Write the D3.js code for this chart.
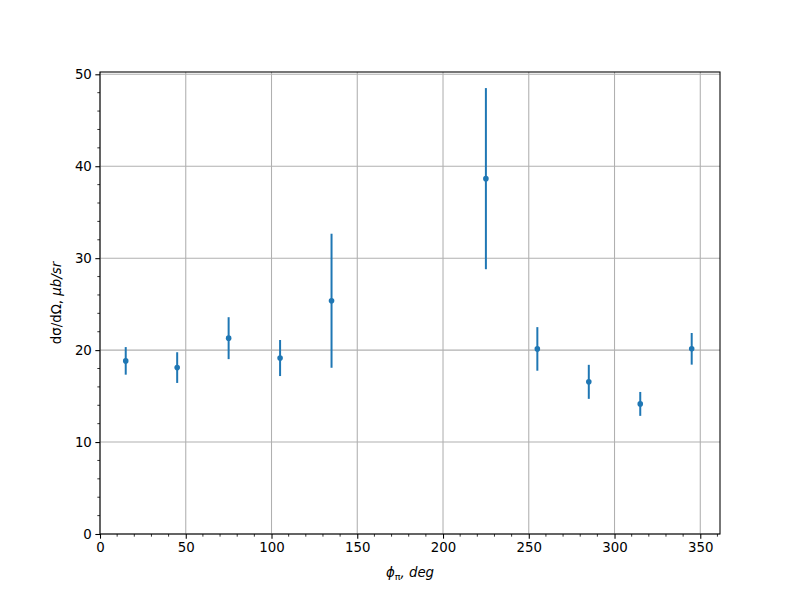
<!DOCTYPE html>
<html>
<head>
<meta charset="utf-8">
<script src="https://cdn.jsdelivr.net/npm/d3@7"></script>
<style>
body { margin: 0; background: #fff; }
text { font-family: "DejaVu Sans", sans-serif; }
</style>
</head>
<body>
<svg id="chart" width="800" height="600"></svg>
<script>
const phi = [15, 45, 75, 105, 135, 225, 255, 285, 315, 345];
const sigma = [18.83, 18.1, 21.3, 19.14, 25.37, 38.65, 20.13, 16.55, 14.15, 20.14];
const errors = [1.5, 1.67, 2.28, 1.96, 7.29, 9.85, 2.37, 1.85, 1.3, 1.72];
const xTicks = [0, 50, 100, 150, 200, 250, 300, 350];
const yTicks = [0, 10, 20, 30, 40, 50];
const xMinor = d3.range(0, 361, 10);
const yMinor = d3.range(0, 51, 2);

const svg = d3.select("#chart");
const L = 100, R = 720, T = 72, B = 534;
const x = d3.scaleLinear().domain([0, 361.5]).range([L, R]);
const y = d3.scaleLinear().domain([0, 50.25]).range([B, T]);
const blue = "#1f77b4";

// grid
svg.append("g").selectAll("line").data(xTicks).join("line")
  .attr("x1", d => x(d)).attr("x2", d => x(d)).attr("y1", T).attr("y2", B)
  .attr("stroke", "#b0b0b0").attr("stroke-width", 1.07);
svg.append("g").selectAll("line").data(yTicks).join("line")
  .attr("x1", L).attr("x2", R).attr("y1", d => y(d)).attr("y2", d => y(d))
  .attr("stroke", "#b0b0b0").attr("stroke-width", 1.07);

// axes
const xAxis = d3.axisBottom(x).tickValues(xTicks).tickSize(4.67).tickPadding(3.5).tickFormat(d3.format("d"));
const yAxis = d3.axisLeft(y).tickValues(yTicks).tickSize(4.67).tickPadding(3.5).tickFormat(d3.format("d"));
const gx = svg.append("g").attr("transform", `translate(0,${B})`).call(xAxis);
const gy = svg.append("g").attr("transform", `translate(${L},0)`).call(yAxis);
[gx, gy].forEach(g => {
  g.select(".domain").remove();
  g.selectAll("line").attr("stroke", "#000").attr("stroke-width", 1.07);
  g.selectAll("text").attr("font-size", 13.33).attr("fill", "#000").attr("font-family", "DejaVu Sans");
});
// minor ticks
const xMinorOnly = xMinor.filter(v => !xTicks.includes(v));
const yMinorOnly = yMinor.filter(v => !yTicks.includes(v));
svg.append("g").selectAll("line").data(xMinorOnly).join("line")
  .attr("x1", d => x(d)).attr("x2", d => x(d)).attr("y1", B).attr("y2", B + 2.67)
  .attr("stroke", "#000").attr("stroke-width", 0.8);
svg.append("g").selectAll("line").data(yMinorOnly).join("line")
  .attr("x1", L - 2.67).attr("x2", L).attr("y1", d => y(d)).attr("y2", d => y(d))
  .attr("stroke", "#000").attr("stroke-width", 0.8);

// error bars
svg.append("g").selectAll("line").data(phi).join("line")
  .attr("x1", d => x(d)).attr("x2", d => x(d))
  .attr("y1", (d, i) => y(sigma[i] - errors[i]))
  .attr("y2", (d, i) => y(sigma[i] + errors[i]))
  .attr("stroke", blue).attr("stroke-width", 2);
svg.append("g").selectAll("circle").data(phi).join("circle")
  .attr("cx", d => x(d)).attr("cy", (d, i) => y(sigma[i]))
  .attr("r", 2.8).attr("fill", blue);

// frame
svg.append("rect").attr("x", L).attr("y", T).attr("width", R - L).attr("height", B - T)
  .attr("fill", "none").attr("stroke", "#000").attr("stroke-width", 1.07);

// labels
const xl = svg.append("text").attr("x", (L + R) / 2).attr("y", 577)
  .attr("text-anchor", "middle").attr("font-size", 13.33).attr("font-style", "italic");
xl.append("tspan").text("ϕ");
xl.append("tspan").attr("font-size", 9.5).attr("dy", 2.5).attr("font-style", "normal").text("π");
xl.append("tspan").attr("dy", -2.5).text(", deg");

const yl = svg.append("text").attr("transform", `translate(61,${(T + B) / 2}) rotate(-90)`)
  .attr("text-anchor", "middle").attr("font-size", 13.33);
yl.append("tspan").text("dσ/dΩ, ");
yl.append("tspan").attr("font-style", "italic").text("μb/sr");
</script>
</body>
</html>
